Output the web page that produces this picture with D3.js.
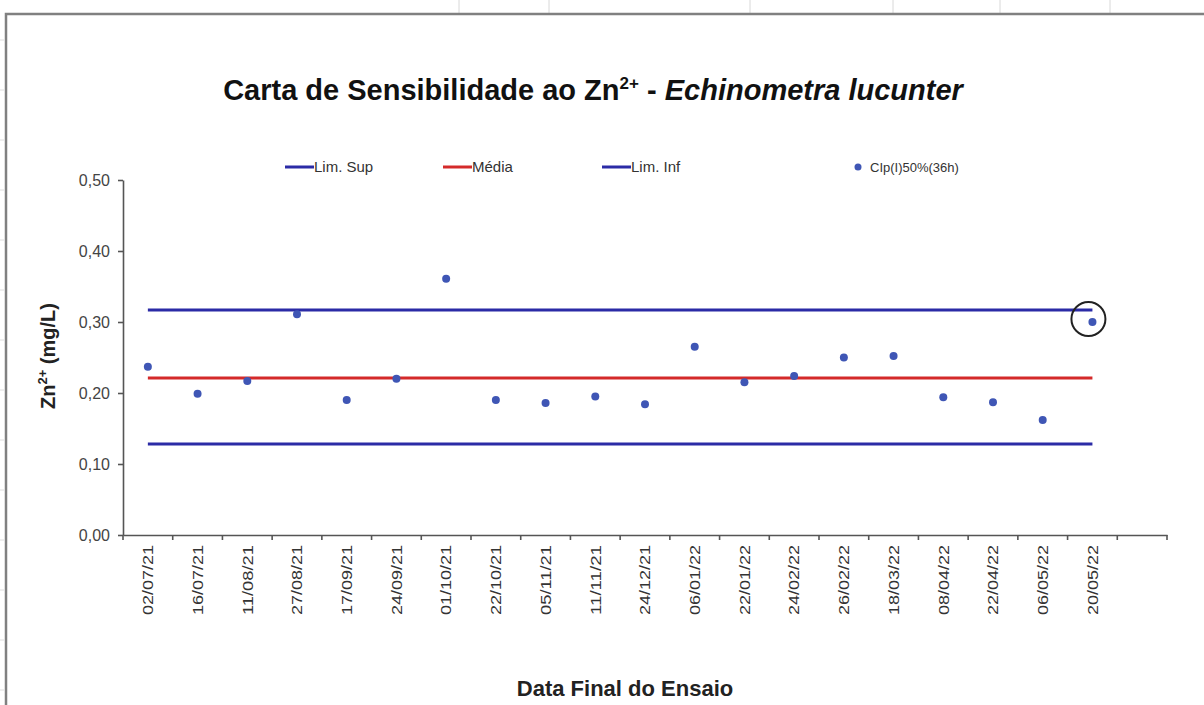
<!DOCTYPE html>
<html>
<head>
<meta charset="utf-8">
<script src="https://cdn.jsdelivr.net/npm/d3@7/dist/d3.min.js"></script>
<style>
  html, body { margin: 0; padding: 0; background: #fff; }
  svg { display: block; }
  text { font-family: "Liberation Sans", Arial, sans-serif; }
</style>
</head>
<body>
<svg id="chart" width="1204" height="705"></svg>
<script>
// ---- data ----
const dates = ["02/07/21","16/07/21","11/08/21","27/08/21","17/09/21","24/09/21","01/10/21",
  "22/10/21","05/11/21","11/11/21","24/12/21","06/01/22","22/01/22","24/02/22","26/02/22",
  "18/03/22","08/04/22","22/04/22","06/05/22","20/05/22"];
const cip = [0.237,0.199,0.217,0.311,0.190,0.220,0.361,0.190,0.186,0.195,0.184,0.265,0.215,
  0.224,0.250,0.252,0.194,0.187,0.162,0.300];
const limSup = dates.map(() => 0.317);
const media  = dates.map(() => 0.221);
const limInf = dates.map(() => 0.128);
const yTicks = [0, 0.1, 0.2, 0.3, 0.4, 0.5];
const legendLabels = ["Lim. Sup", "Média", "Lim. Inf", "CIp(I)50%(36h)"];
const highlighted = ["20/05/22"];

(function () {
// ---- layout ----
const svg = d3.select("#chart");
const W = 1204, H = 705;
const pL = 123, pR = 1167, pT = 180, pB = 535;

// faint spreadsheet cell separators above the chart frame
[459, 549, 750, 893, 1000, 1110].forEach(gx => {
  svg.append("line").attr("x1", gx).attr("x2", gx).attr("y1", 0).attr("y2", 13)
    .attr("stroke", "#d8d8d8").attr("stroke-width", 1);
});
[40, 90, 140, 190, 240, 290, 340, 390, 440, 490, 540, 590, 640, 690].forEach(gy => {
  svg.append("line").attr("x1", 0).attr("x2", 4).attr("y1", gy).attr("y2", gy)
    .attr("stroke", "#dddddd").attr("stroke-width", 1);
});

// chart-area frame (spreadsheet look)
svg.append("path")
  .attr("d", `M6,${H} L6,14 L${W},14`)
  .attr("fill", "none").attr("stroke", "#808080").attr("stroke-width", 2.5);

const cats = dates.concat([""]); // trailing empty category slot
const x = d3.scaleBand().domain(cats).range([pL, pR]).padding(0);
const y = d3.scaleLinear().domain([0, 0.5]).range([pB, pT]);
const cx = d => x(d) + x.bandwidth() / 2;

// title
const title = svg.append("text")
  .attr("x", 593).attr("y", 100)
  .attr("text-anchor", "middle")
  .attr("font-size", 29).attr("font-weight", "bold").attr("fill", "#111");
title.append("tspan").text("Carta de Sensibilidade ao Zn");
title.append("tspan").attr("font-size", 17).attr("dy", -11).text("2+");
title.append("tspan").attr("dy", 11).text(" - ");
title.append("tspan").attr("font-style", "italic").text("Echinometra lucunter");

// y axis
const yAxis = d3.axisLeft(y).tickValues(yTicks).tickSize(5).tickSizeOuter(0)
  .tickFormat(d => d3.format(".2f")(d).replace(".", ","));
const gy = svg.append("g").attr("transform", `translate(${pL},0)`).call(yAxis);
gy.select(".domain").attr("stroke", "#555").attr("stroke-width", 1.6);
gy.selectAll(".tick line").attr("stroke", "#555").attr("stroke-width", 1.6);
gy.selectAll(".tick text").attr("font-size", 16).attr("fill", "#444").attr("x", -13)
  .attr("font-family", "Liberation Sans, Arial, sans-serif");

// x axis
const xAxis = d3.axisBottom(x).tickSize(0).tickSizeOuter(0);
const gx = svg.append("g").attr("transform", `translate(0,${pB})`).call(xAxis);
gx.select(".domain").attr("stroke", "#555").attr("stroke-width", 1.6);
gx.selectAll(".tick text")
  .attr("font-size", 15).attr("fill", "#333")
  .attr("font-family", "Liberation Sans, Arial, sans-serif")
  .attr("transform", "rotate(-90)")
  .attr("text-anchor", "end")
  .attr("x", -10).attr("y", 0).attr("dy", "0.35em")
  .each(function (d) { if (d) d3.select(this).attr("textLength", 70).attr("lengthAdjust", "spacingAndGlyphs"); });
// boundary tick marks between categories
const bounds = cats.map(c => x(c)).concat([pR]);
gx.selectAll(".btick").data(bounds).enter().append("line")
  .attr("x1", d => d).attr("x2", d => d).attr("y1", 0).attr("y2", 5)
  .attr("stroke", "#555").attr("stroke-width", 1.6);

// axis titles
const yl = svg.append("text")
  .attr("transform", "translate(55,356) rotate(-90)")
  .attr("text-anchor", "middle").attr("font-size", 20).attr("font-weight", "bold").attr("fill", "#222");
yl.append("tspan").text("Zn");
yl.append("tspan").attr("font-size", 13).attr("dy", -8).text("2+");
yl.append("tspan").attr("dy", 8).text(" (mg/L)");

svg.append("text").attr("x", 625).attr("y", 696).attr("text-anchor", "middle")
  .attr("font-size", 22).attr("font-weight", "bold").attr("fill", "#222")
  .text("Data Final do Ensaio");

// reference lines
const line = d3.line().x((d, i) => cx(dates[i])).y(d => y(d));
const series = [
  {vals: limSup, color: "#2b2ba6"},
  {vals: media,  color: "#d42a2a"},
  {vals: limInf, color: "#2b2ba6"}
];
series.forEach(s => {
  svg.append("path").datum(s.vals).attr("d", line)
    .attr("fill", "none").attr("stroke", s.color).attr("stroke-width", 3);
});

// points
svg.selectAll(".pt").data(cip).enter().append("circle")
  .attr("cx", (d, i) => cx(dates[i])).attr("cy", d => y(d)).attr("r", 4)
  .attr("fill", "#3f56b5");

// highlight circle
highlighted.forEach(h => {
  const i = dates.indexOf(h);
  svg.append("circle").attr("cx", cx(h) - 4).attr("cy", y(cip[i]) - 3).attr("r", 17)
    .attr("fill", "none").attr("stroke", "#222").attr("stroke-width", 2);
});

// legend
const legY = 167;
const legItems = [
  {x: 285, type: "line", color: "#2b2ba6"},
  {x: 443, type: "line", color: "#d42a2a"},
  {x: 602, type: "line", color: "#2b2ba6"},
  {x: 852, type: "dot",  color: "#3f56b5"}
];
legItems.forEach((it, i) => {
  const g = svg.append("g");
  if (it.type === "line") {
    g.append("line").attr("x1", it.x).attr("x2", it.x + 29).attr("y1", legY).attr("y2", legY)
      .attr("stroke", it.color).attr("stroke-width", 3);
    g.append("text").attr("x", it.x + 29).attr("y", legY + 5).attr("font-size", 15)
      .attr("fill", "#333").text(legendLabels[i]);
  } else {
    g.append("circle").attr("cx", it.x + 6).attr("cy", legY).attr("r", 3.5).attr("fill", it.color);
    g.append("text").attr("x", it.x + 18).attr("y", legY + 5).attr("font-size", 13)
      .attr("fill", "#333").text(legendLabels[i]);
  }
});
})();
</script>
</body>
</html>
